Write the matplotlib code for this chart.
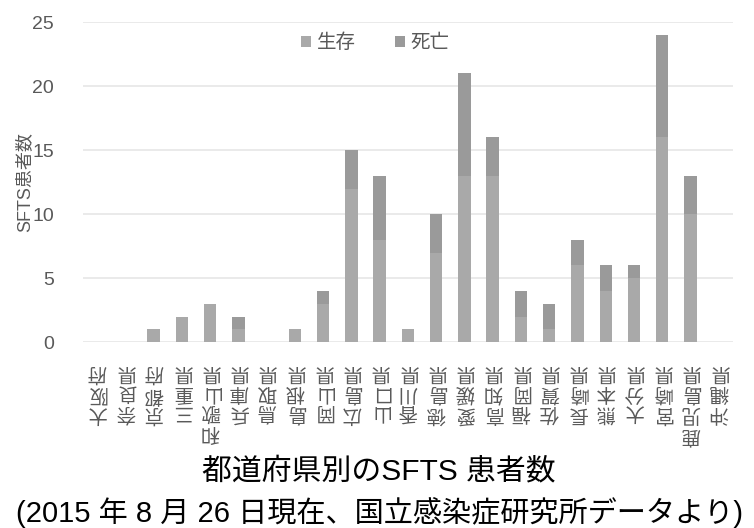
import matplotlib
matplotlib.use("Agg")
import matplotlib.pyplot as plt
import numpy as np

plt.rcParams['font.family'] = ['Liberation Sans', 'Noto Sans CJK JP', 'DejaVu Sans']

prefectures = ['大阪府', '奈良県', '京都府', '三重県', '和歌山県', '兵庫県', '鳥取県',
               '島根県', '岡山県', '広島県', '山口県', '香川県', '徳島県', '愛媛県',
               '高知県', '福岡県', '佐賀県', '長崎県', '熊本県', '大分県', '宮崎県',
               '鹿児島県', '沖縄県']
survived = [0, 0, 1, 2, 3, 1, 0, 1, 3, 12, 8, 1, 7, 13, 13, 2, 1, 6, 4, 5, 16, 10, 0]
died = [0, 0, 0, 0, 0, 1, 0, 0, 1, 3, 5, 0, 3, 8, 3, 2, 2, 2, 2, 1, 8, 3, 0]
yticks = [0, 5, 10, 15, 20, 25]

fig = plt.figure(figsize=(7.54, 5.28), dpi=100)
ax = fig.add_axes([0.110, 0.352, 0.862, 0.606])

x = np.arange(len(prefectures))
ax.bar(x, survived, width=0.44, color='#a9a9a9', label='生存', zorder=2)
ax.bar(x, died, width=0.44, bottom=survived, color='#9a9a9a', label='死亡', zorder=2)

ax.set_xlim(-0.5, len(prefectures) - 0.5)
ax.set_ylim(0, 25)
ax.set_yticks(yticks)
ax.set_yticklabels([str(v) for v in yticks], fontsize=14, color='#595959')
ax.yaxis.grid(True, color='#e6e6e6', linewidth=1.2, zorder=0)
ax.set_axisbelow(True)
for s in ax.spines.values():
    s.set_visible(False)
ax.tick_params(axis='both', length=0)
ax.tick_params(axis='y', pad=21)

# stacked names, turned upside down (rotation 180)
ax.set_xticks(x)
ax.set_xticklabels(['\n'.join(p) for p in prefectures], fontsize=14,
                   color='#595959', linespacing=1.2, rotation=180,
                   ha='center', va='top')
ax.tick_params(axis='x', pad=15)

ax.set_ylabel('SFTS患者数', fontsize=13, color='#595959')
ax.yaxis.set_label_coords(-0.077, 0.5)

ax.legend(loc='center', bbox_to_anchor=(0.45, 0.935), ncol=2, frameon=False,
          fontsize=14, handlelength=0.5, handleheight=0.5, handletextpad=0.3,
          columnspacing=2.0, labelcolor='#595959')

fig.text(0.502, 0.108, '都道府県別のSFTS 患者数', ha='center', va='center',
         fontsize=21.5, color='black')
fig.text(0.503, 0.03, '(2015 年 8 月 26 日現在、国立感染症研究所データより)',
         ha='center', va='center', fontsize=21, color='black')

fig.savefig('out.png', dpi=100)
